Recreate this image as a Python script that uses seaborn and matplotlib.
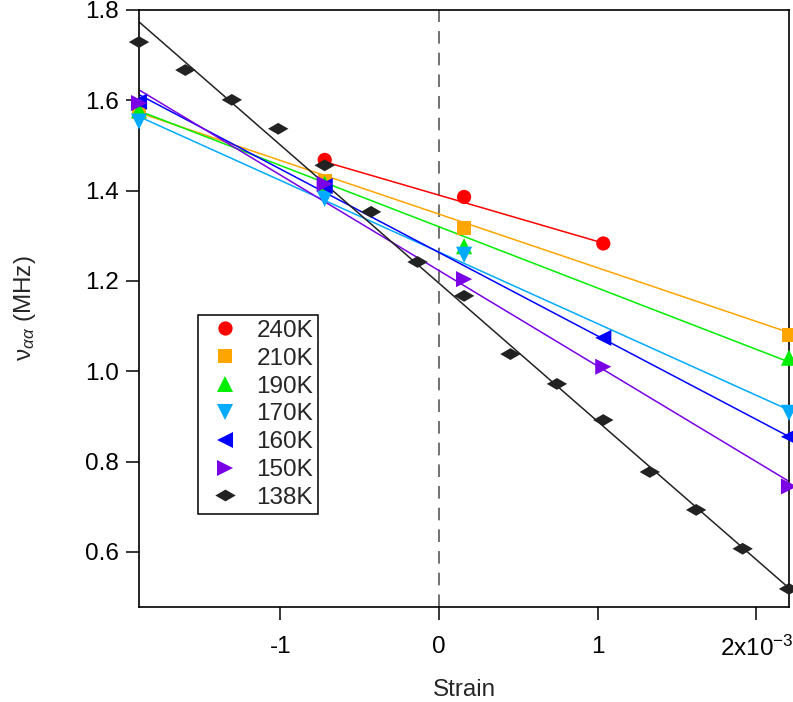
import numpy as np
import pandas as pd
import seaborn as sns
import matplotlib.pyplot as plt
from matplotlib.path import Path
from matplotlib.lines import Line2D

# strain values are in units of 1e-3
temps = ['240K', '210K', '190K', '170K', '160K', '150K', '138K']
colors = ['#FF0000', '#FFA500', '#00EE00', '#00AAFF', '#0000FF', '#7A00E6', '#222222']

strain_240 = [-0.72, 0.158, 1.035]
nu_240 = [1.468, 1.386, 1.283]
strain_210 = [-1.89, -0.72, 0.158, 2.205]
nu_210 = [1.573, 1.422, 1.318, 1.080]
strain_190 = [-1.89, -0.72, 0.158, 2.205]
nu_190 = [1.578, 1.415, 1.277, 1.030]
strain_170 = [-1.89, -0.72, 0.158, 2.205]
nu_170 = [1.553, 1.382, 1.258, 0.908]
strain_160 = [-1.89, -0.72, 1.035, 2.205]
nu_160 = [1.597, 1.410, 1.074, 0.855]
strain_150 = [-1.89, -0.72, 0.158, 1.035, 2.205]
nu_150 = [1.594, 1.415, 1.204, 1.010, 0.745]
strain_138 = [-1.89, -1.598, -1.305, -1.013, -0.72, -0.428, -0.135, 0.158,
              0.45, 0.743, 1.035, 1.328, 1.62, 1.913, 2.205]
nu_138 = [1.729, 1.667, 1.601, 1.537, 1.456, 1.353, 1.242, 1.167,
          1.038, 0.972, 0.892, 0.777, 0.693, 0.607, 0.518]

# linear fits (slope per 1e-3 strain, value at zero strain)
fit_slope = [-0.1026, -0.1189, -0.1358, -0.1587, -0.1849, -0.2117, -0.3062]
fit_icpt = [1.390, 1.348, 1.320, 1.264, 1.263, 1.223, 1.195]

strains = [strain_240, strain_210, strain_190, strain_170, strain_160, strain_150, strain_138]
nus = [nu_240, nu_210, nu_190, nu_170, nu_160, nu_150, nu_138]

df = pd.concat([pd.DataFrame({'strain': s, 'nu': n, 'T': t})
                for s, n, t in zip(strains, nus, temps)], ignore_index=True)

flat_diamond = Path([(-1, 0), (0, 0.58), (1, 0), (0, -0.58), (-1, 0)],
                    [Path.MOVETO, Path.LINETO, Path.LINETO, Path.LINETO, Path.CLOSEPOLY])
markers = ['o', 's', '^', 'v', '<', '>', flat_diamond]
sizes = [105, 100, 135, 135, 135, 135, 215]

sns.set_style('white')
plt.rcParams['font.family'] = ['Liberation Sans', 'DejaVu Sans']
plt.rcParams['mathtext.fontset'] = 'custom'
plt.rcParams['mathtext.rm'] = 'Liberation Sans'
plt.rcParams['mathtext.it'] = 'Liberation Sans:italic'
plt.rcParams['axes.unicode_minus'] = False

FS = 17.5

fig = plt.figure(figsize=(7.93, 7.02), dpi=100)
ax = fig.add_axes([139 / 793, 95 / 702, 650 / 793, 597 / 702])

ax.axvline(0, color='#666666', lw=1.3, dashes=(7, 5), zorder=1)

for i, t in enumerate(temps):
    sub = df[df['T'] == t]
    x0, x1 = sub['strain'].min(), sub['strain'].max()
    fx = [x0, x1]
    fy = [fit_icpt[i] + fit_slope[i] * x0, fit_icpt[i] + fit_slope[i] * x1]
    sns.lineplot(x=fx, y=fy, color=colors[i], lw=1.1, ax=ax, legend=False, zorder=2)

for i, t in enumerate(temps):
    sub = df[df['T'] == t]
    sns.scatterplot(data=sub, x='strain', y='nu', marker=markers[i], s=sizes[i],
                    color=colors[i], edgecolor='none', linewidth=0, ax=ax,
                    legend=False, zorder=3 + i, clip_on=False)

ax.set_xlim(-1.89, 2.205)
ax.set_ylim(0.478, 1.8)
ax.set_xticks([-1, 0, 1, 2])
ax.set_xticklabels(['-1', '0', '1', r'2x10$^{\mathregular{-3}}$'])
ax.set_yticks([0.6, 0.8, 1.0, 1.2, 1.4, 1.6, 1.8])
ax.set_yticklabels(['0.6', '0.8', '1.0', '1.2', '1.4', '1.6', '1.8'])
ax.tick_params(axis='both', direction='out', length=9.5, width=1.1,
               labelsize=FS, color='black', labelcolor='black',
               bottom=True, left=True, top=False, right=False)
ax.tick_params(axis='x', pad=11.5)
ax.tick_params(axis='y', pad=5)
for sp in ax.spines.values():
    sp.set_color('black')
    sp.set_linewidth(1.2)

ax.set_xlabel('Strain', fontsize=FS)
ax.set_ylabel(r'$\mathregular{\nu}_{\alpha\alpha}$ (MHz)', fontsize=FS)
ax.xaxis.set_label_coords(0.5, -0.12)
ax.yaxis.set_label_coords(-0.155, 0.5)

handles = [Line2D([], [], ls='none', marker=m, markersize=np.sqrt(s), color=c,
                  markeredgewidth=0) for m, s, c in zip(markers, sizes, colors)]
leg = ax.legend(handles, temps, loc='upper left', bbox_to_anchor=(0.0908, 0.4891),
                borderaxespad=0, fontsize=FS, frameon=True, fancybox=False,
                edgecolor='black', framealpha=1, borderpad=0.2, handlelength=1.8,
                handletextpad=0.4, labelspacing=0.24)
leg.get_frame().set_linewidth(1.1)

fig.savefig('out.png', dpi=100)
